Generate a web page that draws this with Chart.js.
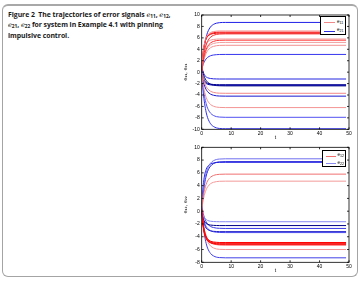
<!DOCTYPE html>
<html><head><meta charset="utf-8">
<script src="https://cdn.jsdelivr.net/npm/chart.js@4"></script>
<style>
html,body{margin:0;padding:0;background:#fff;width:361px;height:283px;overflow:hidden;position:relative;font-family:'Open Sans','Liberation Sans',sans-serif}
#frame{position:absolute;left:2px;top:4px;width:356px;height:273px;border:1px solid #a4a4a4;border-top:2px solid #a8a8a8;border-radius:6px;box-sizing:border-box}
#cap{position:absolute;left:8px;top:10px;font-size:6.9px;font-weight:700;line-height:9.3px;color:#1a1a1a;white-space:nowrap;letter-spacing:-0.05px}
#cap i{font-weight:400;font-family:'DejaVu Serif',serif;font-size:6.6px}
#cap sub{font-size:4.8px;vertical-align:-1.4px;line-height:0}
.wrap{position:absolute}
.leg{position:absolute;background:#fff;border:0.8px solid #000;box-sizing:border-box;font-family:'Liberation Sans',sans-serif;font-size:4.6px;color:#000}
.row{position:absolute;left:0;height:6px;width:100%}
.sw{position:absolute;left:3px;width:11px;top:2.5px;height:0;border-top:1px solid}
.lb{position:absolute;left:16px;top:-1px;white-space:nowrap}
.lb sub{font-size:3.6px;vertical-align:-1px;line-height:0}
</style></head>
<body>
<div id="frame"></div>
<div id="cap">Figure 2&nbsp; The trajectories of error signals <i>e</i><sub>11</sub>, <i>e</i><sub>12</sub>,<br><i>e</i><sub>21</sub>, <i>e</i><sub>22</sub> for system in Example 4.1 with pinning<br>impulsive control.</div>
<div class="wrap" style="left:183px;top:6px"><canvas id="c1" width="173" height="135"></canvas></div>
<div class="wrap" style="left:183px;top:140px"><canvas id="c2" width="173" height="134"></canvas></div>
<div class="leg" style="left:320px;top:16px;width:26px;height:19px">
 <div class="row" style="top:2.5px"><div class="sw" style="border-color:#f08a8a"></div><div class="lb">e<sub>11</sub></div></div>
 <div class="row" style="top:11px"><div class="sw" style="border-color:#3030e0"></div><div class="lb">e<sub>21</sub></div></div>
</div>
<div class="leg" style="left:321.5px;top:150px;width:24.5px;height:17px">
 <div class="row" style="top:2px"><div class="sw" style="border-color:#f07070;width:10px"></div><div class="lb" style="left:15px">e<sub>12</sub></div></div>
 <div class="row" style="top:9.5px"><div class="sw" style="border-color:#8a8aee;width:10px"></div><div class="lb" style="left:15px">e<sub>22</sub></div></div>
</div>
<script>
// sample times
const t = [0, 0.5, 1, 1.5, 2, 3, 4, 5, 6, 8, 49];

// e11 trajectories (top, red)
const e11 = [
 [0.5, 3.52, 5.19, 6.06, 6.53, 6.93, 7.1, 7.17, 7.2, 7.2, 7.2],
 [0.3, 3.32, 4.99, 5.86, 6.33, 6.73, 6.9, 6.97, 7.0, 7.0, 7.0],
 [0.8, 3.52, 5.04, 5.82, 6.25, 6.61, 6.76, 6.82, 6.85, 6.85, 6.85],
 [0.2, 2.35, 3.78, 4.75, 5.4, 6.12, 6.44, 6.6, 6.67, 6.7, 6.7],
 [0.6, 2.94, 4.24, 4.92, 5.28, 5.59, 5.72, 5.77, 5.8, 5.8, 5.8],
 [0.1, 1.92, 3.13, 3.95, 4.5, 5.11, 5.38, 5.52, 5.57, 5.6, 5.6],
 [0.4, 1.98, 3.04, 3.76, 4.24, 4.77, 5.01, 5.13, 5.18, 5.2, 5.2],
 [0.0, 1.55, 2.59, 3.29, 3.76, 4.28, 4.51, 4.63, 4.68, 4.7, 4.7],
 [0.3, -1.02, -1.9, -2.5, -2.9, -3.34, -3.54, -3.64, -3.68, -3.7, -3.7],
 [-0.2, -2.18, -3.5, -4.4, -5.0, -5.66, -5.96, -6.11, -6.17, -6.2, -6.2]
];
// e21 trajectories (top, blue)
const e21 = [
 [0.0, 2.87, 4.79, 6.09, 6.96, 7.92, 8.35, 8.57, 8.66, 8.7, 8.7],
 [0.5, 1.36, 1.93, 2.32, 2.58, 2.87, 3.0, 3.06, 3.09, 3.1, 3.1],
 [1.0, 0.01, -0.54, -0.83, -0.98, -1.11, -1.17, -1.19, -1.2, -1.2, -1.2],
 [0.2, -0.88, -1.48, -1.79, -1.96, -2.1, -2.16, -2.19, -2.2, -2.2, -2.2],
 [-0.5, -1.31, -1.76, -1.99, -2.12, -2.23, -2.27, -2.29, -2.3, -2.3, -2.3],
 [0.8, -0.26, -0.96, -1.44, -1.76, -2.11, -2.27, -2.35, -2.38, -2.4, -2.4],
 [-0.3, -1.59, -2.45, -3.03, -3.42, -3.85, -4.04, -4.14, -4.18, -4.2, -4.2],
 [0.1, -2.54, -4.3, -5.5, -6.3, -7.18, -7.58, -7.78, -7.86, -7.9, -7.9],
 [-0.2, -3.4, -5.54, -7.0, -7.96, -9.03, -9.51, -9.75, -9.85, -9.9, -9.9]
];
// e12 trajectories (bottom, red)
const e12 = [
 [0.5, 2.25, 3.42, 4.21, 4.74, 5.32, 5.59, 5.72, 5.77, 5.8, 5.8],
 [0.2, 1.69, 2.68, 3.35, 3.8, 4.3, 4.52, 4.63, 4.68, 4.7, 4.7],
 [0.3, -2.04, -3.34, -4.02, -4.38, -4.69, -4.82, -4.87, -4.9, -4.9, -4.9],
 [0.0, -2.25, -3.5, -4.15, -4.5, -4.8, -4.93, -4.98, -5.0, -5.0, -5.0],
 [-0.2, -2.41, -3.63, -4.27, -4.61, -4.9, -5.03, -5.08, -5.1, -5.1, -5.1],
 [0.5, -2.07, -3.49, -4.23, -4.63, -4.97, -5.11, -5.17, -5.2, -5.2, -5.2],
 [-0.4, -2.02, -3.1, -3.83, -4.32, -4.86, -5.1, -5.23, -5.28, -5.3, -5.3],
 [0.2, -1.85, -3.21, -4.14, -4.76, -5.44, -5.75, -5.91, -5.97, -6.0, -6.0]
];
// e22 trajectories (bottom, blue)
const e22 = [
 [0.6, 3.11, 4.78, 5.92, 6.68, 7.52, 7.9, 8.09, 8.16, 8.2, 8.2],
 [0.2, 2.69, 4.35, 5.49, 6.24, 7.07, 7.45, 7.64, 7.71, 7.75, 7.75],
 [1.0, 3.99, 5.66, 6.52, 6.99, 7.38, 7.55, 7.62, 7.65, 7.65, 7.65],
 [0.4, -0.52, -1.04, -1.3, -1.45, -1.57, -1.62, -1.64, -1.65, -1.65, -1.65],
 [-0.3, -1.18, -1.67, -1.92, -2.06, -2.17, -2.22, -2.24, -2.25, -2.25, -2.25],
 [0.8, -0.36, -1.13, -1.65, -2.0, -2.39, -2.56, -2.65, -2.68, -2.7, -2.7],
 [0.1, -1.39, -2.21, -2.64, -2.87, -3.07, -3.15, -3.18, -3.2, -3.2, -3.2],
 [-0.1, -1.17, -1.89, -2.38, -2.7, -3.06, -3.22, -3.3, -3.33, -3.35, -3.35],
 [0.3, -2.21, -3.88, -5.02, -5.78, -6.62, -7.0, -7.19, -7.26, -7.3, -7.3]
];
const xTicks = [0, 10, 20, 30, 40, 50];
const yTicksTop = [-10, -8, -6, -4, -2, 0, 2, 4, 6, 8, 10];
const yTicksBottom = [-8, -6, -4, -2, 0, 2, 4, 6, 8, 10];

// styles
const reds1 = ['#f58a8a','#ff1010','#e00000','#ff2a2a','#f29a9a','#ff3030','#f0a0a0','#f39090','#f28888','#f39494'];
const blues1 = ['#2020e8','#3434ee','#2424e0','#000090','#0a0aa8','#00007a','#1a1ad0','#5050f0','#3030e8'];
const reds2 = ['#f07070','#f39a9a','#ff0000','#ff1a1a','#e60000','#ff2020','#ff3a3a','#f49494'];
const blues2 = ['#7070f0','#1a1ad8','#2a2ae8','#8888f4','#00008a','#3a3ae8','#2020c8','#4a4af0','#4040e8'];

function sets(groups){
  const out=[];
  groups.forEach(([arrs,cols])=>arrs.forEach((a,i)=>out.push({
    data:a.map((v,k)=>({x:t[k],y:v})), borderColor:cols[i%cols.length], borderWidth:1,
    pointRadius:0, cubicInterpolationMode:'monotone', fill:false
  })));
  return out;
}

const frame={id:'frame',afterDatasetsDraw(c){
  const {ctx,chartArea:a,scales:{x,y}}=c;
  ctx.save();ctx.strokeStyle='#000';ctx.lineWidth=0.8;
  ctx.strokeRect(a.left,a.top,a.right-a.left,a.bottom-a.top);
  ctx.beginPath();
  x.ticks.forEach(tk=>{const p=x.getPixelForValue(tk.value);ctx.moveTo(p,a.bottom);ctx.lineTo(p,a.bottom-2);ctx.moveTo(p,a.top);ctx.lineTo(p,a.top+2);});
  y.ticks.forEach(tk=>{const p=y.getPixelForValue(tk.value);ctx.moveTo(a.left,p);ctx.lineTo(a.left+2,p);ctx.moveTo(a.right,p);ctx.lineTo(a.right-2,p);});
  ctx.stroke();ctx.restore();
}};

function make(id, ds, yt, title, padTop){
  new Chart(document.getElementById(id),{
    type:'line', data:{datasets:ds}, plugins:[frame],
    options:{animation:false,responsive:false,devicePixelRatio:1,events:[],
      layout:{padding:{left:0,right:7,top:padTop,bottom:0}},
      plugins:{legend:{display:false},tooltip:{enabled:false}},
      scales:{
        x:{type:'linear',min:xTicks[0],max:xTicks[xTicks.length-1],
          afterBuildTicks:s=>{s.ticks=xTicks.map(v=>({value:v}));},
          ticks:{font:{size:5,family:'Liberation Sans'},color:'#000',padding:1,maxRotation:0,autoSkip:false},
          grid:{display:false,drawTicks:false},border:{display:false},
          title:{display:true,text:'t',font:{size:5,family:'Liberation Sans'},color:'#000',padding:0},
          afterFit:s=>{s.height=11.7;}},
        y:{type:'linear',min:yt[0],max:yt[yt.length-1],
          afterBuildTicks:s=>{s.ticks=yt.map(v=>({value:v}));},
          ticks:{font:{size:5,family:'Liberation Sans'},color:'#000',padding:2,autoSkip:false},
          grid:{display:false,drawTicks:false},border:{display:false},
          title:{display:true,text:title,font:{size:5,family:'DejaVu Sans'},color:'#000',padding:0},
          afterFit:s=>{s.width=18.7;}}
      }}
  });
}
make('c1', sets([[e11,reds1],[e21,blues1]]), yTicksTop, 'e\u2081\u2081, e\u2082\u2081', 9);
make('c2', sets([[e12,reds2],[e22,blues2]]), yTicksBottom, 'e\u2081\u2082, e\u2082\u2082', 7.3);
</script>
</body></html>
